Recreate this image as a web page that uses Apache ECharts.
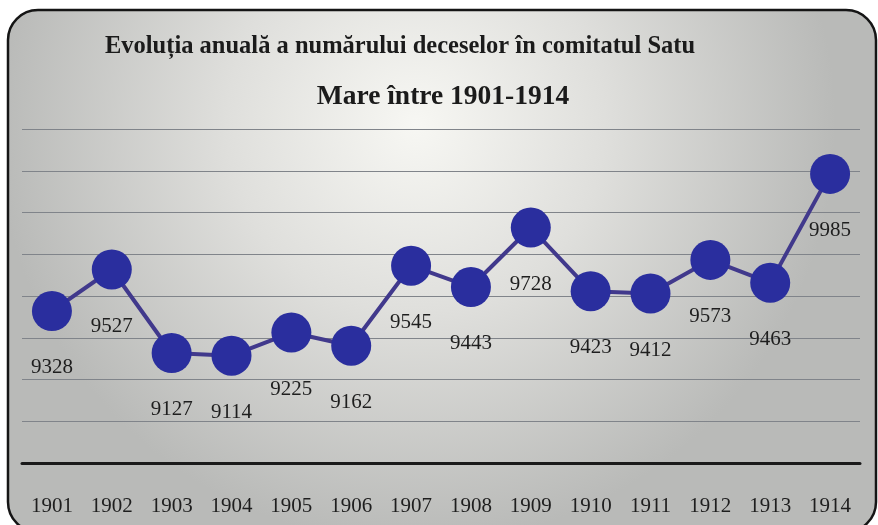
<!DOCTYPE html>
<html lang="ro">
<head>
<meta charset="UTF-8" />
<title>Decese Satu Mare</title>
</head>
<body>
<style>
* {
  margin: 0;
  padding: 0;
}
#chartEl {
  width: 878px;
  height: 525px;
}
</style>
<div id="chartEl"></div>
<script src="https://cdn.jsdelivr.net/npm/echarts@6/dist/echarts.min.js"></script>
<script>
// anii si numarul deceselor
const years = ['1901', '1902', '1903', '1904', '1905', '1906', '1907', '1908', '1909', '1910', '1911', '1912', '1913', '1914'];
const deaths = [9328, 9527, 9127, 9114, 9225, 9162, 9545, 9443, 9728, 9423, 9412, 9573, 9463, 9985];
const titleLine1 = 'Evoluția anuală a numărului deceselor în comitatul Satu';
const titleLine2 = 'Mare între 1901-1914';

const serif = '"Liberation Serif", "DejaVu Serif", serif';

const myChart = echarts.init(document.getElementById('chartEl'));
myChart.setOption({
  backgroundColor: '#fff',
  title: [
    {
      text: titleLine1,
      left: 395,
      top: 29,
      textAlign: 'center',
      textStyle: { fontFamily: serif, fontSize: 24.5, fontWeight: 'bold', color: '#1b1b1b' },
    },
    {
      text: titleLine2,
      left: 438,
      top: 78,
      textAlign: 'center',
      textStyle: { fontFamily: serif, fontSize: 27.5, fontWeight: 'bold', color: '#1b1b1b' },
    },
  ],
  graphic: {
    elements: [
      {
        type: 'rect',
        z: -10,
        shape: { x: 8, y: 10, width: 868, height: 522, r: 30 },
        style: {
          fill: {
            type: 'radial',
            x: 0.47, y: 0.22, r: 0.8,
            colorStops: [
              { offset: 0, color: '#f7f7f3' },
              { offset: 0.45, color: '#dfdfdc' },
              { offset: 1, color: '#b9bab8' },
            ],
          },
          stroke: '#151515',
          lineWidth: 2.5,
        },
      },
    ],
  },
  grid: {
    left: 22,
    right: 18,
    top: 129,
    bottom: 62,
  },
  xAxis: {
    type: 'category',
    data: years,
    axisTick: { show: false },
    axisLine: { lineStyle: { color: '#1a1a1a', width: 3 } },
    axisLabel: {
      fontFamily: serif,
      fontSize: 21,
      color: '#1e1e1e',
      margin: 33,
      interval: 0,
    },
  },
  yAxis: {
    type: 'value',
    min: 8600,
    max: 10200,
    interval: 200,
    axisLabel: { show: false },
    axisLine: { show: false },
    axisTick: { show: false },
    splitLine: { lineStyle: { color: '#80848a', width: 1 } },
  },
  series: [
    {
      type: 'line',
      data: deaths,
      symbol: 'circle',
      symbolSize: 40,
      lineStyle: { color: '#41398c', width: 4 },
      itemStyle: { color: '#2a2e9e' },
      label: {
        show: true,
        position: 'bottom',
        distance: 26,
        fontFamily: serif,
        fontSize: 21,
        color: '#1e1e1e',
      },
      animation: false,
    },
  ],
});
</script>
</body>
</html>
